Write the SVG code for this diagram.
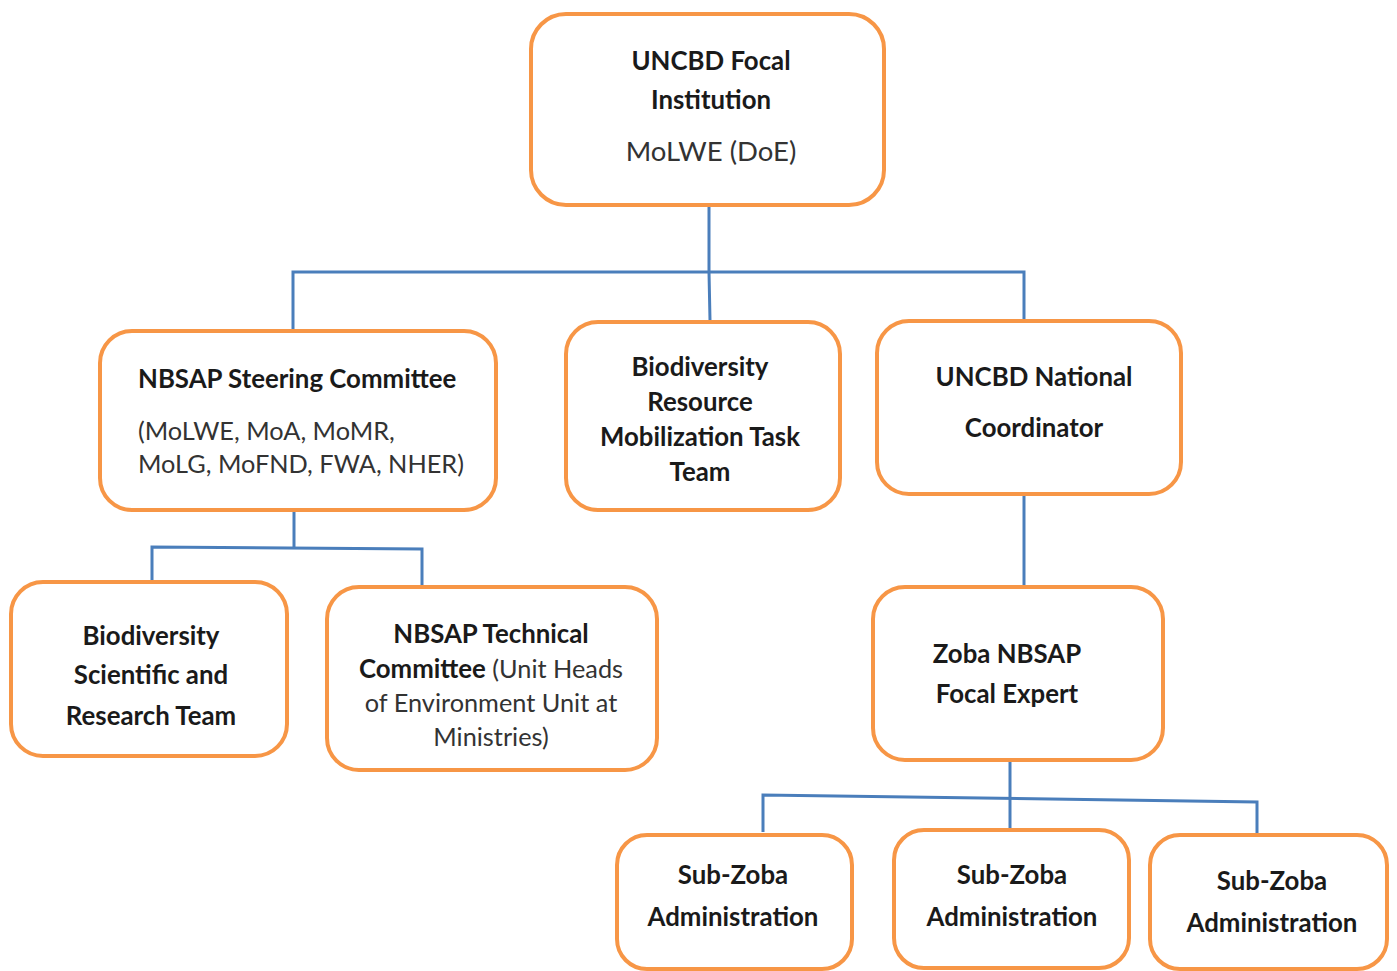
<svg xmlns="http://www.w3.org/2000/svg" width="1397" height="971" viewBox="0 0 1397 971">
<style>
.box{fill:#fff;stroke:#F79646;stroke-width:4}
.conn{fill:none;stroke:#4A7EBB;stroke-width:3}
text{font-family:Lato,"Open Sans","Liberation Sans",sans-serif;font-size:25px;fill:#1a1a1a}
.b{font-weight:bold;font-size:25.8px}
.r{fill:#333;font-weight:normal;font-size:25.3px}
.c{text-anchor:middle}
</style>
<rect width="1397" height="971" fill="#fff"/>
<g id="connectors">
<polyline class="conn" points="709,205 709,272 710,320"/>
<polyline class="conn" points="293,331 293,272 1024,272 1024,321"/>
<polyline class="conn" points="294,510 294,547"/>
<polyline class="conn" points="152,582 152,547 422,549 422,587"/>
<polyline class="conn" points="1024,494 1024,587"/>
<polyline class="conn" points="1010,760 1010,830"/>
<polyline class="conn" points="763,832 763,795 1257,802 1257,835"/>
</g>
<g id="n-focal">
<rect class="box" x="531" y="14" width="353" height="191" rx="35"/>
<text class="b c" x="711" y="70">UNCBD Focal</text>
<text class="b c" x="711" y="109">Institution</text>
<text class="r c" x="711" y="161" style="font-size:27.5px">MoLWE (DoE)</text>
</g>
<g id="n-steering">
<rect class="box" x="100" y="331" width="396" height="179" rx="32"/>
<text class="b" x="138" y="388">NBSAP Steering Committee</text>
<text class="r" x="138" y="440">(MoLWE, MoA, MoMR,</text>
<text class="r" x="138" y="473">MoLG, MoFND, FWA, NHER)</text>
</g>
<g id="n-mobilization">
<rect class="box" x="566" y="322" width="274" height="188" rx="32"/>
<text class="b c" x="700" y="376">Biodiversity</text>
<text class="b c" x="700" y="411">Resource</text>
<text class="b c" x="700" y="446">Mobilization Task</text>
<text class="b c" x="700" y="481">Team</text>
</g>
<g id="n-coordinator">
<rect class="box" x="877" y="321" width="304" height="173" rx="32"/>
<text class="b c" x="1034" y="386">UNCBD National</text>
<text class="b c" x="1034" y="437">Coordinator</text>
</g>
<g id="n-scientific">
<rect class="box" x="11" y="582" width="276" height="174" rx="32"/>
<text class="b c" x="151" y="645">Biodiversity</text>
<text class="b c" x="151" y="684">Scientific and</text>
<text class="b c" x="151" y="725">Research Team</text>
</g>
<g id="n-technical">
<rect class="box" x="327" y="587" width="330" height="183" rx="32"/>
<text class="b c" x="491" y="643">NBSAP Technical</text>
<text class="c" x="491" y="678"><tspan class="b">Committee</tspan><tspan class="r"> (Unit Heads</tspan></text>
<text class="r c" x="491" y="712">of Environment Unit at</text>
<text class="r c" x="491" y="746">Ministries)</text>
</g>
<g id="n-zoba">
<rect class="box" x="873" y="587" width="290" height="173" rx="32"/>
<text class="b c" x="1007" y="663">Zoba NBSAP</text>
<text class="b c" x="1007" y="703">Focal Expert</text>
</g>
<g id="n-sub1">
<rect class="box" x="617" y="835" width="235" height="134" rx="30"/>
<text class="b c" x="733" y="884">Sub-Zoba</text>
<text class="b c" x="733" y="926">Administration</text>
</g>
<g id="n-sub2">
<rect class="box" x="894" y="830" width="235" height="138" rx="30"/>
<text class="b c" x="1012" y="884">Sub-Zoba</text>
<text class="b c" x="1012" y="926">Administration</text>
</g>
<g id="n-sub3">
<rect class="box" x="1150" y="835" width="237" height="134" rx="30"/>
<text class="b c" x="1272" y="890">Sub-Zoba</text>
<text class="b c" x="1272" y="932">Administration</text>
</g>
</svg>
